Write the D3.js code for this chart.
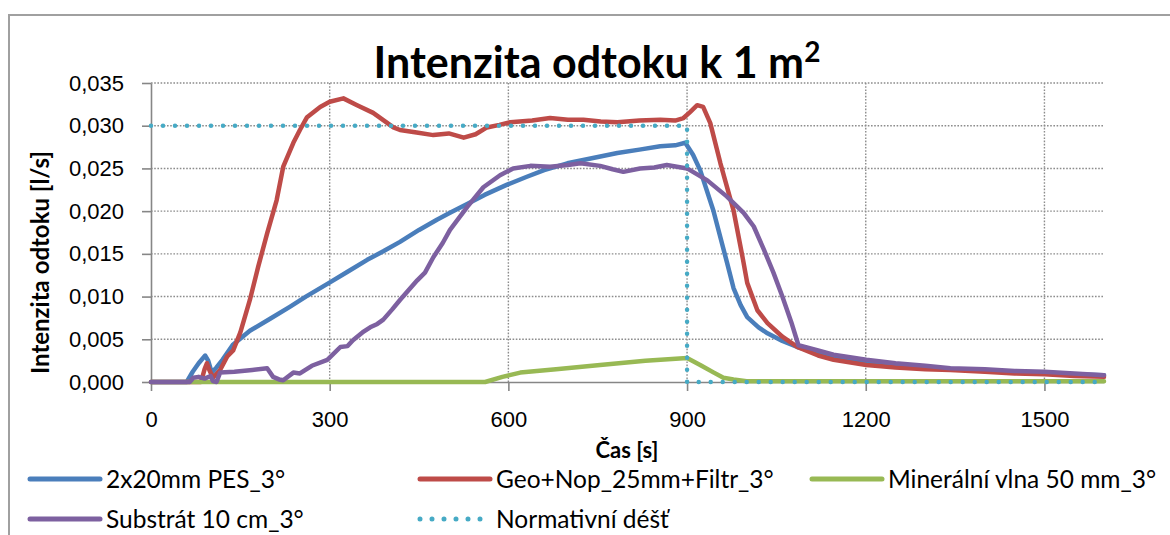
<!DOCTYPE html>
<html lang="cs">
<head>
    <meta charset="UTF-8">
    <title>Intenzita odtoku k 1 m2</title>
    <script src="https://d3js.org/d3.v7.min.js"></script>
    <style>
        body { margin: 0; background: #fff; }
        svg { font-family: Lato, "Open Sans", sans-serif; }
        .grid line { stroke: #8c8c8c; stroke-width: 1.4; stroke-dasharray: 1.6 1.6; }
        .axis path, .axis line { stroke: #868686; stroke-width: 1.6; }
        .axis text { font-size: 22px; fill: #000; }
        .axis-name { font-weight: bold; text-anchor: middle; }
        .legend text { font-size: 24.5px; }
        .series { fill: none; stroke-width: 4.5; stroke-linejoin: round; stroke-linecap: round; }
    </style>
</head>
<body>
<script>
    // time [s], outflow [l/s]
    const pes = [
        [0, 0], [60, 0], [70, 0.0012], [80, 0.0022], [91, 0.0031], [96, 0.0025], [102, 0.0011],
        [110, 0.0017], [120, 0.0026], [138, 0.0044], [166, 0.0060], [200, 0.0074], [233, 0.0088],
        [260, 0.0100], [299, 0.0116], [330, 0.0129], [363, 0.0143], [390, 0.0153], [418, 0.0164],
        [450, 0.0178], [480, 0.0190], [502, 0.0198], [530, 0.0208], [560, 0.0219], [598, 0.0231],
        [630, 0.0240], [660, 0.0248], [699, 0.0256], [740, 0.0262], [783, 0.0268], [820, 0.0272],
        [855, 0.0276], [880, 0.0277], [897, 0.0280], [910, 0.0266], [922, 0.0248], [944, 0.0201],
        [967, 0.0140], [978, 0.0110], [990, 0.0090], [1001, 0.0076], [1020, 0.0064], [1035, 0.0057],
        [1060, 0.0048], [1085, 0.0041], [1120, 0.0034], [1150, 0.0029], [1201, 0.0022], [1250, 0.0019],
        [1300, 0.0017], [1350, 0.0015], [1400, 0.0013], [1450, 0.0012], [1500, 0.0011], [1550, 0.0009],
        [1600, 0.0008]
    ];
    const geo = [
        [0, 0], [84, 0], [90, 0.0015], [94, 0.0022], [98, 0.0014], [104, 0.0005], [116, 0.0014],
        [128, 0.0030], [138, 0.0037], [150, 0.0058], [166, 0.0096], [180, 0.0135], [195, 0.0174],
        [211, 0.0213], [222, 0.0252], [239, 0.0280], [250, 0.0295], [262, 0.0310], [284, 0.0322],
        [300, 0.0328], [323, 0.0332], [346, 0.0324], [373, 0.0315], [407, 0.0298], [418, 0.0295],
        [446, 0.0292], [474, 0.0289], [500, 0.0291], [525, 0.0286], [545, 0.0290], [564, 0.0298],
        [585, 0.0301], [603, 0.0304], [640, 0.0306], [670, 0.0309], [700, 0.0307], [726, 0.0307],
        [755, 0.0305], [783, 0.0304], [820, 0.0306], [855, 0.0307], [880, 0.0306], [894, 0.0309],
        [905, 0.0316], [917, 0.0324], [927, 0.0322], [939, 0.0303], [956, 0.0256], [978, 0.0201],
        [994, 0.0143], [1001, 0.0116], [1018, 0.0084], [1035, 0.0069], [1060, 0.0053], [1085, 0.0041],
        [1120, 0.0031], [1146, 0.0026], [1201, 0.0020], [1250, 0.0017], [1300, 0.0015], [1342, 0.0014],
        [1400, 0.0012], [1450, 0.0010], [1500, 0.0009], [1550, 0.0007], [1600, 0.0006]
    ];
    const mineral = [
        [0, 0], [561, 0], [590, 0.0006], [620, 0.0011], [680, 0.0015], [754, 0.0020], [830, 0.0025],
        [900, 0.0028], [922, 0.0020], [945, 0.0011], [961, 0.0005], [978, 0.0003], [1000, 0.0001],
        [1600, 0.0001]
    ];
    const substrat = [
        [0, 0], [65, 0], [71, 0.0005], [80, 0.0006], [90, 0.0004], [100, 0.0007], [104, 0.0001],
        [110, 0], [116, 0.0011], [140, 0.0012], [170, 0.0014], [195, 0.0016], [205, 0.0006],
        [215, 0.0003], [222, 0.0002], [239, 0.0011], [250, 0.0010], [270, 0.0019], [296, 0.0026],
        [305, 0.0032], [318, 0.0041], [330, 0.0042], [339, 0.0049], [355, 0.0058], [368, 0.0064],
        [380, 0.0068], [390, 0.0073], [405, 0.0085], [418, 0.0096], [447, 0.0119], [460, 0.0128],
        [474, 0.0146], [490, 0.0163], [502, 0.0178], [531, 0.0205], [558, 0.0228], [586, 0.0242],
        [608, 0.0250], [637, 0.0253], [670, 0.0252], [700, 0.0254], [721, 0.0256], [754, 0.0253],
        [775, 0.0249], [793, 0.0246], [821, 0.0250], [845, 0.0251], [866, 0.0254], [900, 0.0250],
        [934, 0.0236], [967, 0.0217], [995, 0.0198], [1012, 0.0182], [1029, 0.0155], [1045, 0.0128],
        [1060, 0.0100], [1075, 0.0070], [1087, 0.0043], [1120, 0.0037], [1146, 0.0032], [1201, 0.0026],
        [1250, 0.0022], [1300, 0.0019], [1342, 0.0016], [1400, 0.0015], [1450, 0.0013], [1500, 0.0012],
        [1550, 0.0010], [1600, 0.0008]
    ];
    const normDest = [[0, 0.030], [900, 0.030], [900, 0], [1600, 0]];

    const xTicks = [0, 300, 600, 900, 1200, 1500];
    const yTicks = [0, 0.005, 0.010, 0.015, 0.020, 0.025, 0.030, 0.035];

    const series = [
        { name: '2x20mm PES_3°', data: pes, color: '#4a7ebb' },
        { name: 'Geo+Nop_25mm+Filtr_3°', data: geo, color: '#be4b48' },
        { name: 'Minerální vlna 50 mm_3°', data: mineral, color: '#98b954' },
        { name: 'Substrát 10 cm_3°', data: substrat, color: '#7d60a0' },
        { name: 'Normativní déšť', data: normDest, color: '#46aac5', dotted: true }
    ];

    const svg = d3.select('body').append('svg')
        .attr('width', 1170)
        .attr('height', 535);

    // chart frame
    svg.append('path')
        .attr('d', 'M9,535 V15 H1170')
        .attr('fill', 'none')
        .attr('stroke', '#a0a0a0')
        .attr('stroke-width', 2);

    const x = d3.scaleLinear().domain([0, 1600]).range([151, 1104]);
    const y = d3.scaleLinear().domain([0, 0.035]).range([382, 83]);

    const grid = svg.append('g').attr('class', 'grid');
    grid.selectAll('.h').data(yTicks.slice(1)).enter().append('line')
        .attr('x1', x(0)).attr('x2', x(1600))
        .attr('y1', d => y(d)).attr('y2', d => y(d));
    grid.selectAll('.v').data(xTicks.slice(1)).enter().append('line')
        .attr('x1', d => x(d)).attr('x2', d => x(d))
        .attr('y1', y(0.035)).attr('y2', y(0));

    const comma = d3.format('.3f');
    svg.append('g')
        .attr('class', 'axis')
        .attr('transform', `translate(${x(0)},0)`)
        .call(d3.axisLeft(y).tickValues(yTicks).tickSize(9).tickSizeOuter(0).tickPadding(18)
            .tickFormat(d => comma(d).replace('.', ',')));

    svg.append('g')
        .attr('class', 'axis')
        .attr('transform', `translate(0,${y(0)})`)
        .call(d3.axisBottom(x).tickValues(xTicks).tickSize(9).tickSizeOuter(0).tickPadding(20)
            .tickFormat(d => String(d)));

    const line = d3.line()
        .x(d => x(d[0]))
        .y(d => y(d[1]));

    svg.selectAll('.series')
        .data(series)
        .enter().append('path')
        .attr('class', 'series')
        .attr('stroke', d => d.color)
        .attr('stroke-dasharray', d => d.dotted ? '0 12' : null)
        .attr('d', d => line(d.data));

    // title
    const title = svg.append('text')
        .attr('x', 597)
        .attr('y', 78)
        .attr('text-anchor', 'middle')
        .attr('font-size', 43)
        .attr('font-weight', 'bold')
        .text('Intenzita odtoku k 1 m');
    title.append('tspan')
        .attr('font-size', 28)
        .attr('dy', -16)
        .text('2');

    svg.append('text')
        .attr('class', 'axis-name')
        .attr('x', 627)
        .attr('y', 458)
        .attr('font-size', 22)
        .text('Čas [s]');

    svg.append('text')
        .attr('class', 'axis-name')
        .attr('font-size', 24)
        .attr('transform', `translate(49,${(83 + 382) / 2 + 30}) rotate(-90)`)
        .text('Intenzita odtoku [l/s]');

    // legend
    const legendPos = [[30, 479], [420, 479], [812, 479], [30, 519], [420, 519]];
    const legend = svg.append('g').attr('class', 'legend');
    const item = legend.selectAll('g')
        .data(series)
        .enter().append('g')
        .attr('transform', (d, i) => `translate(${legendPos[i][0]},${legendPos[i][1]})`);
    item.append('line')
        .attr('x1', 0).attr('x2', 70)
        .attr('stroke', d => d.color)
        .attr('stroke-width', 5)
        .attr('stroke-linecap', 'round')
        .attr('stroke-dasharray', d => d.dotted ? '0 12' : null);
    item.append('text')
        .attr('x', 76)
        .attr('dy', '0.35em')
        .text(d => d.name);
</script>
</body>
</html>
